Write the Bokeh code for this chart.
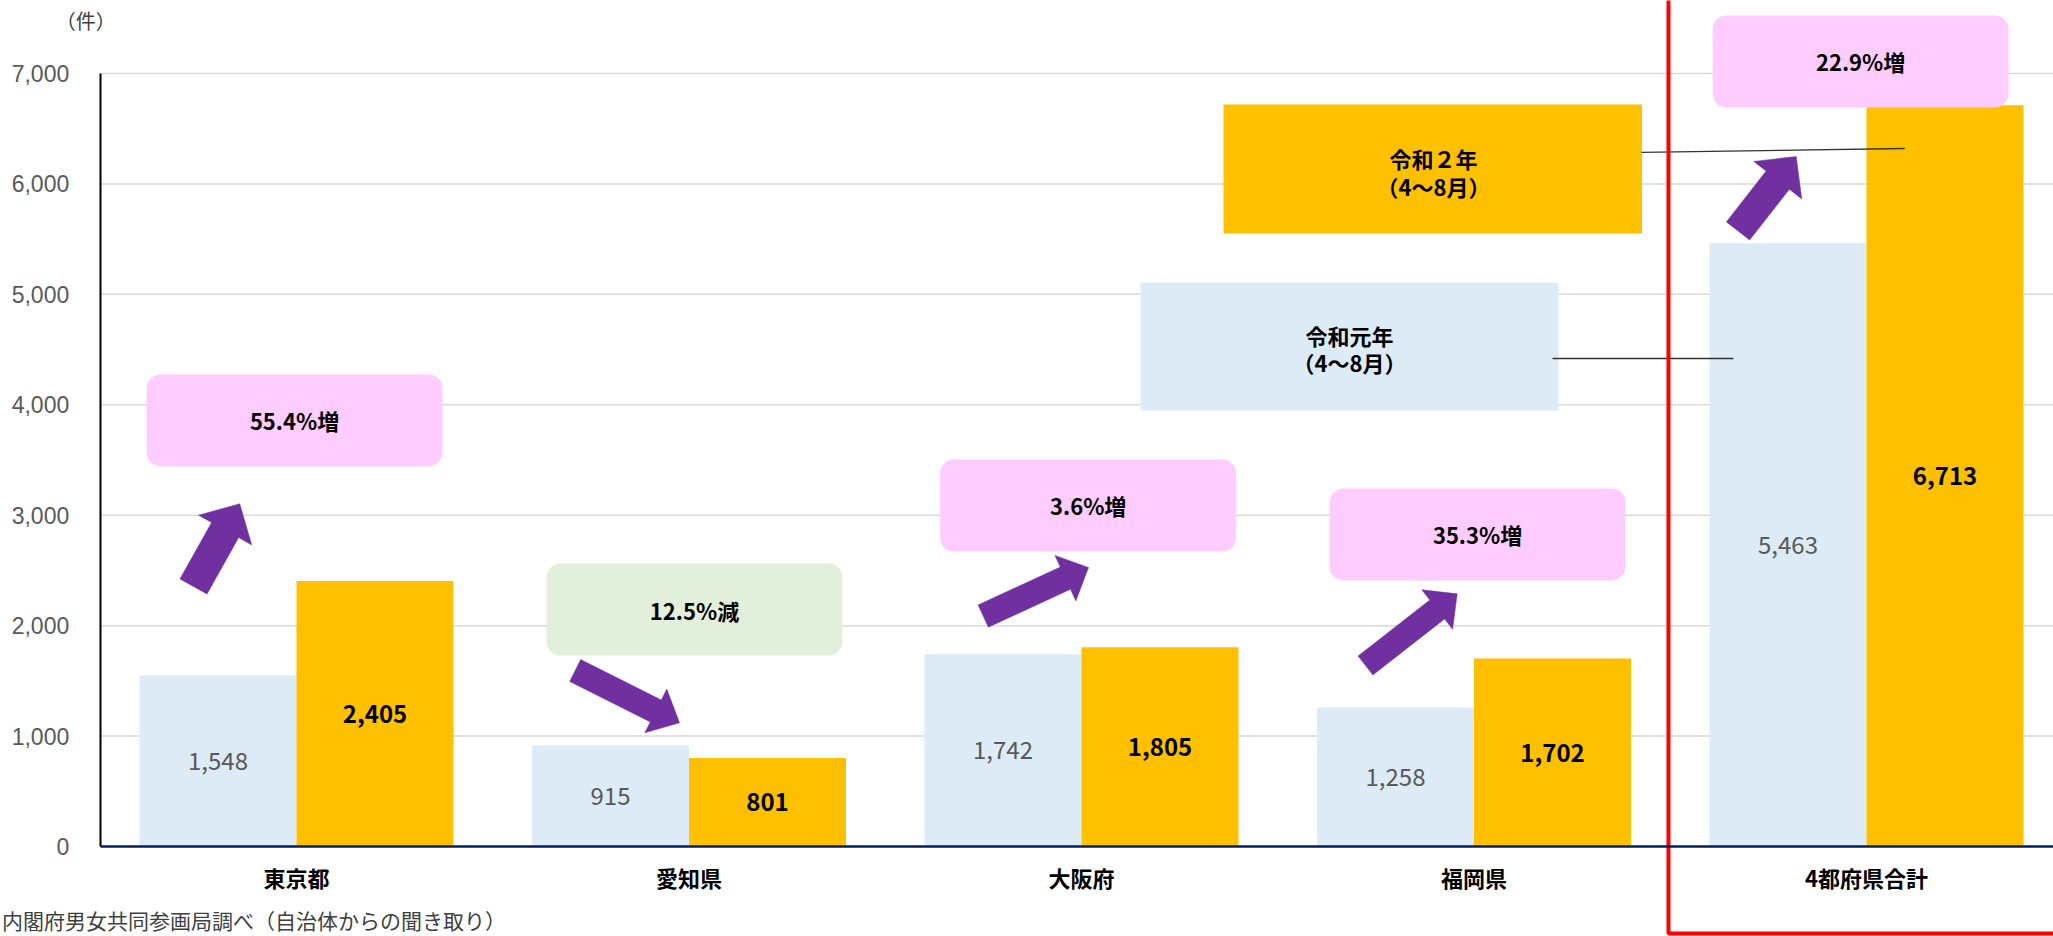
import math
from bokeh.plotting import figure
from bokeh.models import (Range1d, LinearAxis, FixedTicker, NumeralTickFormatter,
                          BoxAnnotation, Label, ColumnDataSource)
from bokeh.core.properties import value
from bokeh.embed import file_html
from bokeh.resources import INLINE

# ---------------- data ----------------
categories = ["東京都", "愛知県", "大阪府", "福岡県", "4都府県合計"]
r1_values = [1548, 915, 1742, 1258, 5463]    # 令和元年（4～8月）
r2_values = [2405, 801, 1805, 1702, 6713]    # 令和２年（4～8月）
change_labels = ["55.4%増", "12.5%減", "3.6%増", "35.3%増", "22.9%増"]
y_ticks = [0, 1000, 2000, 3000, 4000, 5000, 6000, 7000]
series_names = [["令和元年", "（4～8月）"], ["令和２年", "（4～8月）"]]
unit_label = "（件）"
source_note = "内閣府男女共同参画局調べ（自治体からの聞き取り）"

# ---------------- layout ----------------
W, H = 2053, 936
X_MIN, X_MAX = -0.2541, 4.9764
Y_MIN, Y_MAX = -815.0, 7661.0
PXX = W / (X_MAX - X_MIN)
PXY = H / (Y_MAX - Y_MIN)
BAR_W = 0.4

C_R1 = "#DDEBF7"
C_R2 = "#FFC000"
C_PINK = "#FFCCFF"
C_GREEN = "#E2EFDA"
C_ARROW = "#7030A0"
FONT = "Noto Sans CJK JP"

# callout box centres (data units) and size
callout_pos = [(0.495, 3858), (1.514, 2146), (2.517, 3088), (3.509, 2826), (4.485, 7109)]
CALLOUT_W, CALLOUT_H = 0.754, 833
# arrows: tail, tip, shaft px, head width px, head length px
arrows = [
    ((0.2376, 2354), (0.3555, 3103), 31, 61, 30),
    ((1.2101, 1594), (1.4758, 1120), 24.5, 49, 26.5),
    ((2.2496, 2087), (2.5178, 2526), 24.5, 50, 25.4),
    ((3.2236, 1639), (3.4572, 2288), 24, 50, 25.4),
    ((4.1726, 5574), (4.3209, 6248), 29.5, 61, 30),
]
# legend boxes: left, right, top, bottom, text x, line1 y, line2 y
legend_boxes = [
    (2.6505, 3.7154, 5107, 3948, 3.1828, 4636, 4383),
    (2.8618, 3.9280, 6719, 5551, 3.3968, 6239, 5977),
]
leaders = [((3.700, 4419), (4.1611, 4419)), ((3.9267, 6285), (4.5971, 6321))]
RED_X, RED_Y = 3.9955, -788

p = figure(width=W, height=H, x_range=Range1d(X_MIN, X_MAX), y_range=Range1d(Y_MIN, Y_MAX),
           output_backend="svg", toolbar_location=None, x_axis_location=None,
           y_axis_location=None, title=None, min_border=0)
p.min_border_left = p.min_border_right = p.min_border_top = p.min_border_bottom = 0
p.outline_line_color = None
p.xgrid.visible = False
p.ygrid.visible = False
p.background_fill_color = "white"
p.border_fill_color = "white"

# gridlines
grid_y = [t for t in y_ticks if t > 0]
p.segment(x0=[0] * len(grid_y), x1=[X_MAX] * len(grid_y), y0=grid_y, y1=grid_y,
          line_color="#D9D9D9", line_width=1.5, level="underlay")

centers = [i + 0.5 for i in range(len(categories))]
src = ColumnDataSource(dict(
    x1=[c - BAR_W / 2 for c in centers], x2=[c + BAR_W / 2 for c in centers],
    r1=r1_values, r2=r2_values,
    r1m=[v / 2 for v in r1_values], r2m=[v / 2 for v in r2_values],
    r1t=[f"{v:,}" for v in r1_values], r2t=[f"{v:,}" for v in r2_values],
))
p.vbar(x="x1", top="r1", bottom=0, width=BAR_W, source=src, fill_color=C_R1, line_color=None)
p.vbar(x="x2", top="r2", bottom=0, width=BAR_W, source=src, fill_color=C_R2, line_color=None)
p.text(x="x1", y="r1m", text="r1t", source=src, text_align="center", text_baseline="middle",
       text_font=value(FONT), text_font_size="24px", text_color="#595959")
p.text(x="x2", y="r2m", text="r2t", source=src, text_align="center", text_baseline="middle",
       text_font=value(FONT), text_font_size="24px", text_color="black", text_font_style="bold")

# arrows
axs, ays = [], []
for (tx, ty), (hx, hy), s, hw, hl in arrows:
    dx, dy = (hx - tx) * PXX, (hy - ty) * PXY
    L = math.hypot(dx, dy)
    ux, uy = dx / L, dy / L
    nx, ny = -uy, ux
    b = L - hl
    pts = [(nx * s / 2, ny * s / 2), (ux * b + nx * s / 2, uy * b + ny * s / 2),
           (ux * b + nx * hw / 2, uy * b + ny * hw / 2), (ux * L, uy * L),
           (ux * b - nx * hw / 2, uy * b - ny * hw / 2), (ux * b - nx * s / 2, uy * b - ny * s / 2),
           (-nx * s / 2, -ny * s / 2)]
    axs.append([tx + px / PXX for px, py in pts])
    ays.append([ty + py / PXY for px, py in pts])
p.patches(xs=axs, ys=ays, fill_color=C_ARROW, line_color=C_ARROW, line_width=0.5)

# legend boxes + leaders
leg_colors = [C_R1, C_R2]
for (l, r, t, b, tx, y1, y2), col in zip(legend_boxes, leg_colors):
    p.quad(left=[l], right=[r], top=[t], bottom=[b], fill_color=col, line_color=None)
for (x0, y0), (x1, y1) in leaders:
    p.line(x=[x0, x1], y=[y0, y1], line_color="#333333", line_width=1.3)
for (l, r, t, b, tx, y1, y2), names in zip(legend_boxes, series_names):
    for yy, txt in zip((y1, y2), names):
        p.add_layout(Label(x=tx, y=yy, text=txt, text_align="center", text_baseline="middle",
                           text_font=FONT, text_font_size="22px", text_font_style="bold",
                           text_color="black"))

# callouts
for (cx, cy), txt, a, b in zip(callout_pos, change_labels, r1_values, r2_values):
    col = C_PINK if b >= a else C_GREEN
    p.add_layout(BoxAnnotation(left=cx - CALLOUT_W / 2, right=cx + CALLOUT_W / 2,
                               bottom=cy - CALLOUT_H / 2, top=cy + CALLOUT_H / 2,
                               fill_color=col, fill_alpha=1.0, line_color=None,
                               border_radius=14))
for (cx, cy), txt in zip(callout_pos, change_labels):
    p.add_layout(Label(x=cx, y=cy, text=txt, text_align="center", text_baseline="middle",
                       text_font=FONT, text_font_size="22px", text_font_style="bold",
                       text_color="black"))

# axes
yaxis = LinearAxis(fixed_location=0, bounds=(0, y_ticks[-1]), ticker=FixedTicker(ticks=y_ticks),
                   formatter=NumeralTickFormatter(format="0,0"))
yaxis.axis_line_color = "black"
yaxis.axis_line_width = 2
yaxis.major_tick_line_color = None
yaxis.minor_tick_line_color = None
yaxis.major_label_text_font = "Liberation Sans"
yaxis.major_label_text_font_size = "23px"
yaxis.major_label_text_color = "#595959"
yaxis.major_label_standoff = 25
p.add_layout(yaxis, "left")

xaxis = LinearAxis(fixed_location=0, bounds=(0, X_MAX), ticker=FixedTicker(ticks=centers),
                   major_label_overrides={c: n for c, n in zip(centers, categories)})
xaxis.axis_line_color = "#002060"
xaxis.axis_line_width = 2.5
xaxis.major_tick_line_color = None
xaxis.minor_tick_line_color = None
xaxis.major_label_text_font = FONT
xaxis.major_label_text_font_size = "22px"
xaxis.major_label_text_font_style = "bold"
xaxis.major_label_text_color = "black"
xaxis.major_label_standoff = 8
p.add_layout(xaxis, "below")

# red frame around total
p.line(x=[X_MAX + 1, RED_X, RED_X], y=[RED_Y, RED_Y, Y_MAX + 500], line_color="#FF0000",
       line_width=4)

p.add_layout(Label(x=-0.037, y=7480, text=unit_label, text_align="center", text_baseline="middle",
                   text_font=FONT, text_font_size="20px", text_color="#404040"))
p.add_layout(Label(x=-0.250, y=-670, text=source_note, text_align="left", text_baseline="middle",
                   text_font=FONT, text_font_size="21px", text_color="#404040"))

open("out.html", "w").write(file_html(p, INLINE))
